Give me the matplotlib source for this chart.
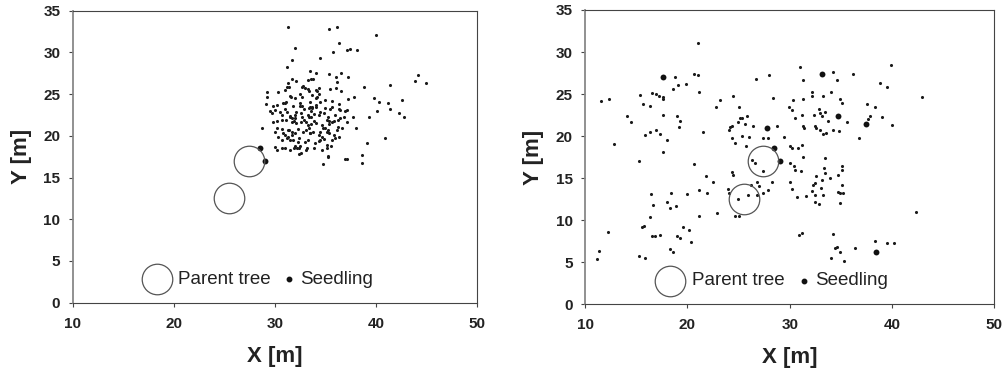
import matplotlib
matplotlib.use("Agg")
import matplotlib.pyplot as plt

plt.rcParams['font.family'] = ['Liberation Sans', 'DejaVu Sans']

# parent trees (same in both plots)
tree_x = [27.4, 25.5]
tree_y = [17.0, 12.5]

# left plot: seedlings clumped to the north-east of the parents
left_x = [31.3, 35.3, 36.1, 40.0, 32.0, 36.3, 35.7, 37.1, 37.4, 38.1, 31.65, 34.4, 31.15,
          33.5, 34.1, 35.3, 36.0, 36.5, 37.2, 31.65, 31.25, 32.1, 33.3, 33.6, 33.8, 44.1, 43.8,
          44.9, 41.4, 38.8, 31.15, 32.8, 33.0, 33.3, 34.05, 34.3, 34.3, 33.7, 35.4, 36.0, 36.5,
          37.25, 37.8, 39.8, 40.3, 42.6, 41.2, 29.2, 29.25, 30.3, 31.0, 31.5, 32.0, 32.5, 29.1,
          29.8, 30.2, 30.8, 31.1, 31.75, 32.7, 32.9, 33.5, 33.7, 34.1, 34.45, 35.6, 36.4, 36.3,
          37.1, 40.05, 41.4, 42.3, 42.8, 39.3, 37.7, 29.5, 29.7, 30.0, 30.5, 30.7, 31.15, 31.5,
          32.0, 32.1, 32.6, 32.7, 33.3, 33.6, 33.9, 34.4, 34.8, 35.2, 35.1, 35.8, 36.4, 37.1,
          28.7, 29.8, 30.2, 30.7, 31.1, 31.65, 32.1, 32.6, 32.9, 33.1, 33.3, 33.6, 33.9, 34.1,
          34.6, 34.7, 35.3, 35.6, 36.2, 36.6, 38.0, 30.2, 30.0, 30.7, 30.8, 31.3, 31.65, 32.0,
          32.3, 32.8, 33.1, 33.5, 33.8, 34.3, 34.6, 35.2, 35.3, 35.8, 36.3, 30.3, 30.7, 31.15,
          31.8, 32.4, 33.0, 33.3, 34.0, 34.45, 35.1, 35.5, 30.0, 30.2, 30.7, 31.5, 32.0, 31.9,
          32.4, 32.6, 32.4, 33.1, 34.6, 35.2, 39.1, 40.9, 38.6, 38.6, 36.9, 34.7,
          36.1, 31.4, 32.7, 33.4, 34.2, 34.2, 34.1, 31.6, 32.7, 34.9, 35.6, 33.5, 31.0, 32.5,
          32.5, 33.4, 33.7, 34.1, 34.9, 35.4, 36.3, 31.0, 36.9, 31.5, 31.65, 32.0, 33.4, 34.3,
          35.9, 31.9, 33.6, 35.3, 36.2, 36.8, 31.4, 31.65, 31.0, 31.3, 33.4, 33.5, 34.45, 34.9,
          35.1, 36.1, 35.9, 35.6, 34.3, 34.8, 32.3, 32.2, 32.5, 33.2, 33.9, 35.1, 37.1, 35.2,
          31.0, 31.5]
left_y = [33.1, 32.85, 33.1, 32.05, 30.5, 31.1, 30.0, 30.3, 30.4, 30.25, 29.1, 29.3, 28.25,
          27.8, 27.5, 27.4, 27.1, 27.5, 27.0, 26.8, 26.3, 26.6, 26.7, 26.8, 26.8, 27.3, 26.6,
          26.3, 26.1, 25.8, 25.8, 26.0, 25.7, 25.6, 25.5, 25.7, 25.0, 24.9, 25.6, 25.7, 25.4,
          24.4, 24.6, 24.5, 24.0, 24.25, 23.9, 25.2, 24.7, 25.3, 25.5, 24.8, 24.5, 25.0, 23.8,
          23.6, 23.7, 23.9, 24.1, 23.6, 23.6, 23.2, 23.5, 23.4, 23.7, 24.0, 23.5, 23.1, 23.8,
          23.1, 23.0, 23.2, 22.7, 22.2, 22.2, 22.2, 23.0, 22.7, 23.1, 22.8, 22.5, 22.9, 22.4,
          22.5, 22.8, 22.7, 22.2, 22.5, 23.0, 22.6, 22.8, 22.7, 22.2, 21.9, 21.8, 22.1, 21.7,
          20.9, 21.7, 21.8, 21.9, 21.9, 21.6, 21.5, 21.7, 21.9, 21.6, 21.3, 21.4, 21.8, 21.5,
          21.3, 21.0, 21.4, 21.6, 21.1, 21.0, 21.0, 20.9, 20.5, 20.8, 20.3, 20.7, 20.1, 20.3,
          20.8, 20.5, 20.7, 20.3, 20.5, 20.1, 19.9, 20.7, 20.3, 20.1, 19.9, 19.9, 19.5, 19.7,
          19.5, 19.7, 19.3, 19.5, 19.1, 19.5, 18.9, 18.8, 18.7, 18.3, 18.5, 18.3, 18.8, 18.5,
          18.5, 17.9, 17.8, 18.3, 18.3, 17.6, 19.1, 19.8, 17.7, 16.7, 17.2, 16.6,
          26.4, 25.9, 25.9, 25.4, 25.4, 24.7, 24.5, 24.6, 24.6, 24.3, 24.2, 24.0, 23.9, 23.9,
          23.6, 23.3, 23.3, 23.4, 23.3, 23.2, 23.2, 23.2, 23.0, 22.3, 22.1, 22.1, 22.3, 22.5,
          22.5, 21.8, 22.2, 21.8, 21.9, 22.2, 20.7, 20.5, 20.1, 19.9, 20.9, 20.4, 20.5, 20.9,
          20.5, 20.7, 19.7, 19.5, 19.4, 19.6, 19.3, 18.6, 18.8, 18.5, 18.5, 18.6, 17.2, 17.5,
          18.5, 19.5]
left_big_x = [28.5, 29.0]
left_big_y = [18.6, 17.0]

# right plot: seedlings scattered over the whole stand
right_x = [21.07, 18.76, 20.68, 21.07, 19.87, 18.63, 19.12, 21.17, 11.56, 12.38, 15.37, 16.51,
           16.9, 17.26, 17.65, 17.65, 15.64, 16.35, 17.59, 14.07, 14.46, 19.02, 19.28, 19.19,
           16.89, 16.35, 15.86, 17.36, 18.01, 12.87, 17.65, 15.31, 21.56, 20.68, 16.42, 16.68,
           16.35, 15.54, 15.77, 12.22, 16.58, 16.84, 17.33, 11.4, 11.21, 15.31, 15.86, 18.31,
           18.57, 20.33, 19.61, 20.16, 19.02, 19.28, 17.98, 18.37, 18.31, 18.86, 20.0, 21.17,
           21.17, 21.89, 21.82, 22.54, 22.87, 22.77, 23.19, 24.5, 25.09, 24.17, 24.4, 24.98,
           25.15, 25.37, 25.64, 25.86, 26.45, 26.03, 25.31, 24.4, 24.66, 24.1, 27.36, 27.92,
           28.73, 29.45, 28.34, 27.95, 26.68, 26.61, 26.35, 27.36, 25.73, 26.78, 27.04, 28.24,
           27.85, 27.43, 26.78, 25.96, 24.98, 25.08, 24.66, 26.19, 24.4, 24.43, 24.04, 23.94,
           30.03, 30.2, 30.85, 30.36, 30.2, 29.97, 31.01, 31.27, 31.27, 30.53, 31.17, 31.27,
           31.4, 32.15, 32.15, 34.27, 36.16, 34.59, 33.22, 34.04, 34.92, 35.08, 32.39, 32.87,
           32.96, 33.13, 33.45, 33.71, 32.46, 32.62, 32.96, 33.29, 33.55, 34.27, 34.85, 35.57,
           37.69, 37.85, 37.52, 38.3, 38.99, 36.81, 38.83, 39.48, 39.9, 40.03, 42.9, 42.35,
           30.03, 30.52, 30.46, 31.07, 30.03, 30.2, 30.69, 31.17, 31.33, 31.6, 32.46, 32.3,
           32.62, 32.15, 32.46, 32.49, 32.88, 33.22, 33.06, 33.19, 33.45, 33.45, 33.38, 33.94,
           34.76, 35.08, 35.08, 34.76, 34.92, 35.24, 35.08, 34.92, 30.91, 31.17, 34.27, 34.59,
           34.43, 34.92, 34.04, 35.31, 36.38, 38.34, 39.48, 40.23]
right_y = [31.07, 26.98, 27.4, 27.3, 26.19, 25.6, 26.11, 25.2, 24.13, 24.4, 24.88, 25.12,
           25.04, 24.72, 24.4, 24.64, 23.81, 23.61, 22.54, 22.42, 21.63, 22.34, 21.83, 21.03,
           20.75, 20.48, 20.16, 20.24, 19.56, 19.09, 18.06, 17.06, 20.48, 16.71, 13.13, 11.75,
           10.44, 9.25, 9.33, 8.57, 8.13, 8.13, 8.25, 6.39, 5.36, 5.75, 5.56, 6.55,
           6.19, 7.46, 9.25, 8.85, 8.17, 7.86, 12.14, 13.29, 11.43, 11.63, 13.17, 13.61,
           10.52, 13.21, 15.28, 14.52, 10.91, 23.41, 24.33, 24.8, 23.41, 21.03, 21.15, 21.67,
           22.14, 22.14, 21.43, 22.34, 21.15, 19.88, 19.96, 19.76, 19.17, 20.75, 19.76, 19.76,
           21.15, 19.88, 24.52, 27.3, 26.79, 16.79, 17.18, 15.87, 18.77, 14.6, 14.01, 14.6,
           13.61, 13.29, 13.02, 13.02, 12.54, 10.52, 10.52, 14.21, 15.79, 15.4, 13.21, 13.69,
           18.77, 18.57, 18.57, 24.33, 23.13, 23.45, 28.17, 26.71, 24.4, 22.14, 22.54, 21.15,
           20.95, 25.24, 24.8, 27.58, 27.42, 26.71, 24.72, 25.2, 24.4, 23.89, 22.54, 23.21,
           22.74, 22.34, 22.86, 21.75, 21.23, 20.91, 20.67, 20.28, 20.36, 20.67, 20.63, 21.67,
           22.06, 22.34, 23.81, 23.45, 22.26, 19.76, 26.31, 25.83, 28.49, 21.35, 24.6, 10.95,
           16.79, 15.99, 16.39, 15.87, 14.6, 13.73, 12.7, 18.97, 17.5, 12.82, 14.48, 14.21,
           15.2, 13.53, 13.02, 12.22, 11.9, 13.02, 13.81, 14.8, 15.6, 17.38, 16.19, 15.0,
           15.4, 16.39, 16.0, 13.41, 13.21, 13.21, 14.21, 12.1, 8.25, 8.45, 8.33, 6.87,
           6.67, 6.19, 5.56, 5.16, 6.75, 7.58, 7.26, 7.26]
right_big_x = [17.65, 33.19, 34.69, 37.43, 27.75, 38.44, 28.47, 29.06]
right_big_y = [26.98, 27.38, 22.34, 21.47, 20.95, 6.19, 18.53, 17.06]

x_ticks = [10, 20, 30, 40, 50]
y_ticks = [0, 5, 10, 15, 20, 25, 30, 35]


def draw_panel(ax, sx, sy, bx, by):
    ax.plot(tree_x, tree_y, 'o', ms=22, mfc='none', mec='#555555', mew=0.9)
    ax.scatter(sx, sy, s=5, c='#1a1a1a', lw=0)
    ax.scatter(bx, by, s=18, c='#111111', lw=0)
    ax.set_xlim(10, 50)
    ax.set_ylim(0, 35)
    ax.set_xticks(x_ticks)
    ax.set_yticks(y_ticks)
    ax.tick_params(direction='out', length=3, width=0.8, color='#444444', labelsize=11)
    ax.tick_params(axis='x', pad=7)
    ax.tick_params(axis='y', pad=6)
    for lab in ax.get_xticklabels() + ax.get_yticklabels():
        lab.set_fontweight('bold')
        lab.set_color('#222222')
    for sp in ax.spines.values():
        sp.set_color('#444444')
        sp.set_linewidth(0.8)
    ax.spines['left'].set_color('#888888')
    ax.spines['left'].set_linewidth(1.3)
    ax.set_xlabel('X [m]', fontsize=16, fontweight='bold', labelpad=11, color='#222222')
    ax.set_ylabel('Y [m]', fontsize=16, fontweight='bold', labelpad=8, color='#222222')

    # legend drawn by hand so the spacing matches
    ax.plot([0.2075], [0.08], 'o', ms=22, mfc='none', mec='#555555', mew=0.9,
            transform=ax.transAxes, clip_on=False)
    ax.text(0.261, 0.08, 'Parent tree', fontsize=13.5, va='center', ha='left',
            transform=ax.transAxes, color='#222222')
    ax.plot([0.535], [0.08], 'o', ms=3.2, color='#111111', transform=ax.transAxes)
    ax.text(0.562, 0.08, 'Seedling', fontsize=13.5, va='center', ha='left',
            transform=ax.transAxes, color='#222222')


fig = plt.figure(figsize=(10.07, 3.74), dpi=100)
ax1 = fig.add_axes([0.0722, 0.1906, 0.4018, 0.7808])
ax2 = fig.add_axes([0.581, 0.1864, 0.4064, 0.7869])

draw_panel(ax1, left_x, left_y, left_big_x, left_big_y)
draw_panel(ax2, right_x, right_y, right_big_x, right_big_y)

fig.savefig('out.png', dpi=100)
